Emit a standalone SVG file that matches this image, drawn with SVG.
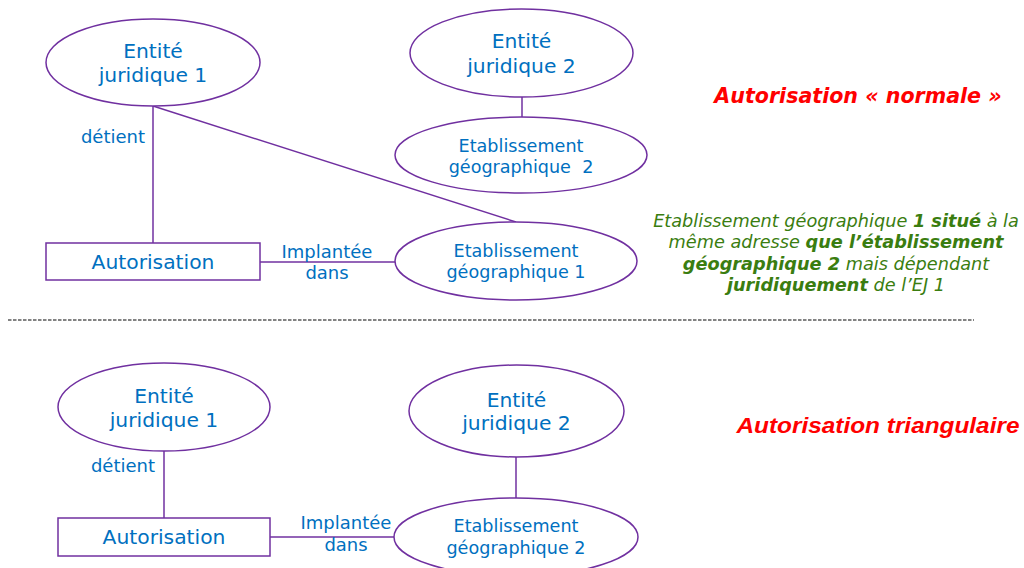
<svg xmlns="http://www.w3.org/2000/svg" width="1024" height="568" viewBox="0 0 1024 568">
<style>
.shape{fill:#fff;stroke:#7030A0;stroke-width:1.5}
.conn{stroke:#7030A0;stroke-width:1.5;fill:none}
.t{font-family:"DejaVu Sans",Verdana,sans-serif;fill:#0070C0;text-anchor:middle}
.big{font-size:20.3px}
.mid{font-size:17.6px}
.lbl{font-size:18px}
.red{font-family:"DejaVu Sans",Verdana,sans-serif;font-weight:bold;font-style:italic;fill:#FF0000;font-size:20.6px;text-anchor:middle}
.red2{font-family:"Liberation Sans",Arial,sans-serif;font-weight:bold;font-style:italic;fill:#FF0000;font-size:22px;text-anchor:middle}
.green{font-family:"DejaVu Sans",Verdana,sans-serif;font-style:italic;fill:#3A7D10;font-size:17.7px;text-anchor:middle}
.b{font-weight:bold}
</style>
<rect width="1024" height="568" fill="#fff"/>
<g id="connectors">
<line class="conn" x1="153" y1="106" x2="153" y2="243"/>
<line class="conn" x1="153" y1="106" x2="516" y2="222"/>
<line class="conn" x1="260" y1="262" x2="395" y2="262"/>
<line class="conn" x1="522" y1="97" x2="522" y2="117"/>
<line class="conn" x1="164" y1="451" x2="164" y2="518"/>
<line class="conn" x1="270" y1="537" x2="394" y2="537"/>
<line class="conn" x1="516" y1="457" x2="516" y2="498"/>
<text class="t lbl" x="113" y="143">détient</text>
<text class="t lbl" x="327" y="258">Implantée</text>
<text class="t lbl" x="327" y="279">dans</text>
<text class="t lbl" x="123" y="472">détient</text>
<text class="t lbl" x="346" y="529">Implantée</text>
<text class="t lbl" x="346" y="551">dans</text>
</g>
<g id="separator">
<line x1="8" y1="320" x2="974" y2="320" stroke="#5a5a5a" stroke-width="1.5" stroke-dasharray="3.5,1.5"/>
</g>
<g id="ej1-top">
<ellipse class="shape" cx="153" cy="62.5" rx="107" ry="43.5"/>
<text class="t big" x="153" y="58">Entité</text>
<text class="t big" x="153" y="82">juridique 1</text>
</g>
<g id="ej2-top">
<ellipse class="shape" cx="521.5" cy="53" rx="111.5" ry="44"/>
<text class="t big" x="521.5" y="48">Entité</text>
<text class="t big" x="521.5" y="73">juridique 2</text>
</g>
<g id="eg2-top">
<ellipse class="shape" cx="521" cy="155" rx="126" ry="38"/>
<text class="t mid" x="521" y="152">Etablissement</text>
<text class="t mid" x="521" y="173" xml:space="preserve">géographique  2</text>
</g>
<g id="eg1-top">
<ellipse class="shape" cx="516" cy="261" rx="121" ry="39"/>
<text class="t mid" x="516" y="257">Etablissement</text>
<text class="t mid" x="516" y="278">géographique 1</text>
</g>
<g id="autorisation-top">
<rect class="shape" x="46" y="243" width="214" height="37"/>
<text class="t big" x="153" y="269">Autorisation</text>
</g>
<g id="title-normale">
<text class="red" x="858" y="103">Autorisation « normale »</text>
</g>
<g id="note">
<text class="green" x="836" y="227">Etablissement géographique <tspan class="b">1 situé</tspan> à la</text>
<text class="green" x="836" y="248">même adresse <tspan class="b">que l’établissement</tspan></text>
<text class="green" x="836" y="270"><tspan class="b">géographique 2</tspan> mais dépendant</text>
<text class="green" x="836" y="291"><tspan class="b">juridiquement</tspan> de l’EJ 1</text>
</g>
<g id="ej1-bottom">
<ellipse class="shape" cx="164" cy="407" rx="106" ry="44"/>
<text class="t big" x="164" y="403">Entité</text>
<text class="t big" x="164" y="427">juridique 1</text>
</g>
<g id="ej2-bottom">
<ellipse class="shape" cx="516.5" cy="411" rx="107.5" ry="46"/>
<text class="t big" x="516.5" y="407">Entité</text>
<text class="t big" x="516.5" y="430">juridique 2</text>
</g>
<g id="eg2-bottom">
<ellipse class="shape" cx="516" cy="537" rx="122" ry="39"/>
<text class="t mid" x="516" y="532">Etablissement</text>
<text class="t mid" x="516" y="554">géographique 2</text>
</g>
<g id="autorisation-bottom">
<rect class="shape" x="58" y="518" width="212" height="38"/>
<text class="t big" x="164" y="544">Autorisation</text>
</g>
<g id="title-triangulaire">
<text class="red2" x="878" y="433" textLength="283" lengthAdjust="spacingAndGlyphs">Autorisation triangulaire</text>
</g>
</svg>
